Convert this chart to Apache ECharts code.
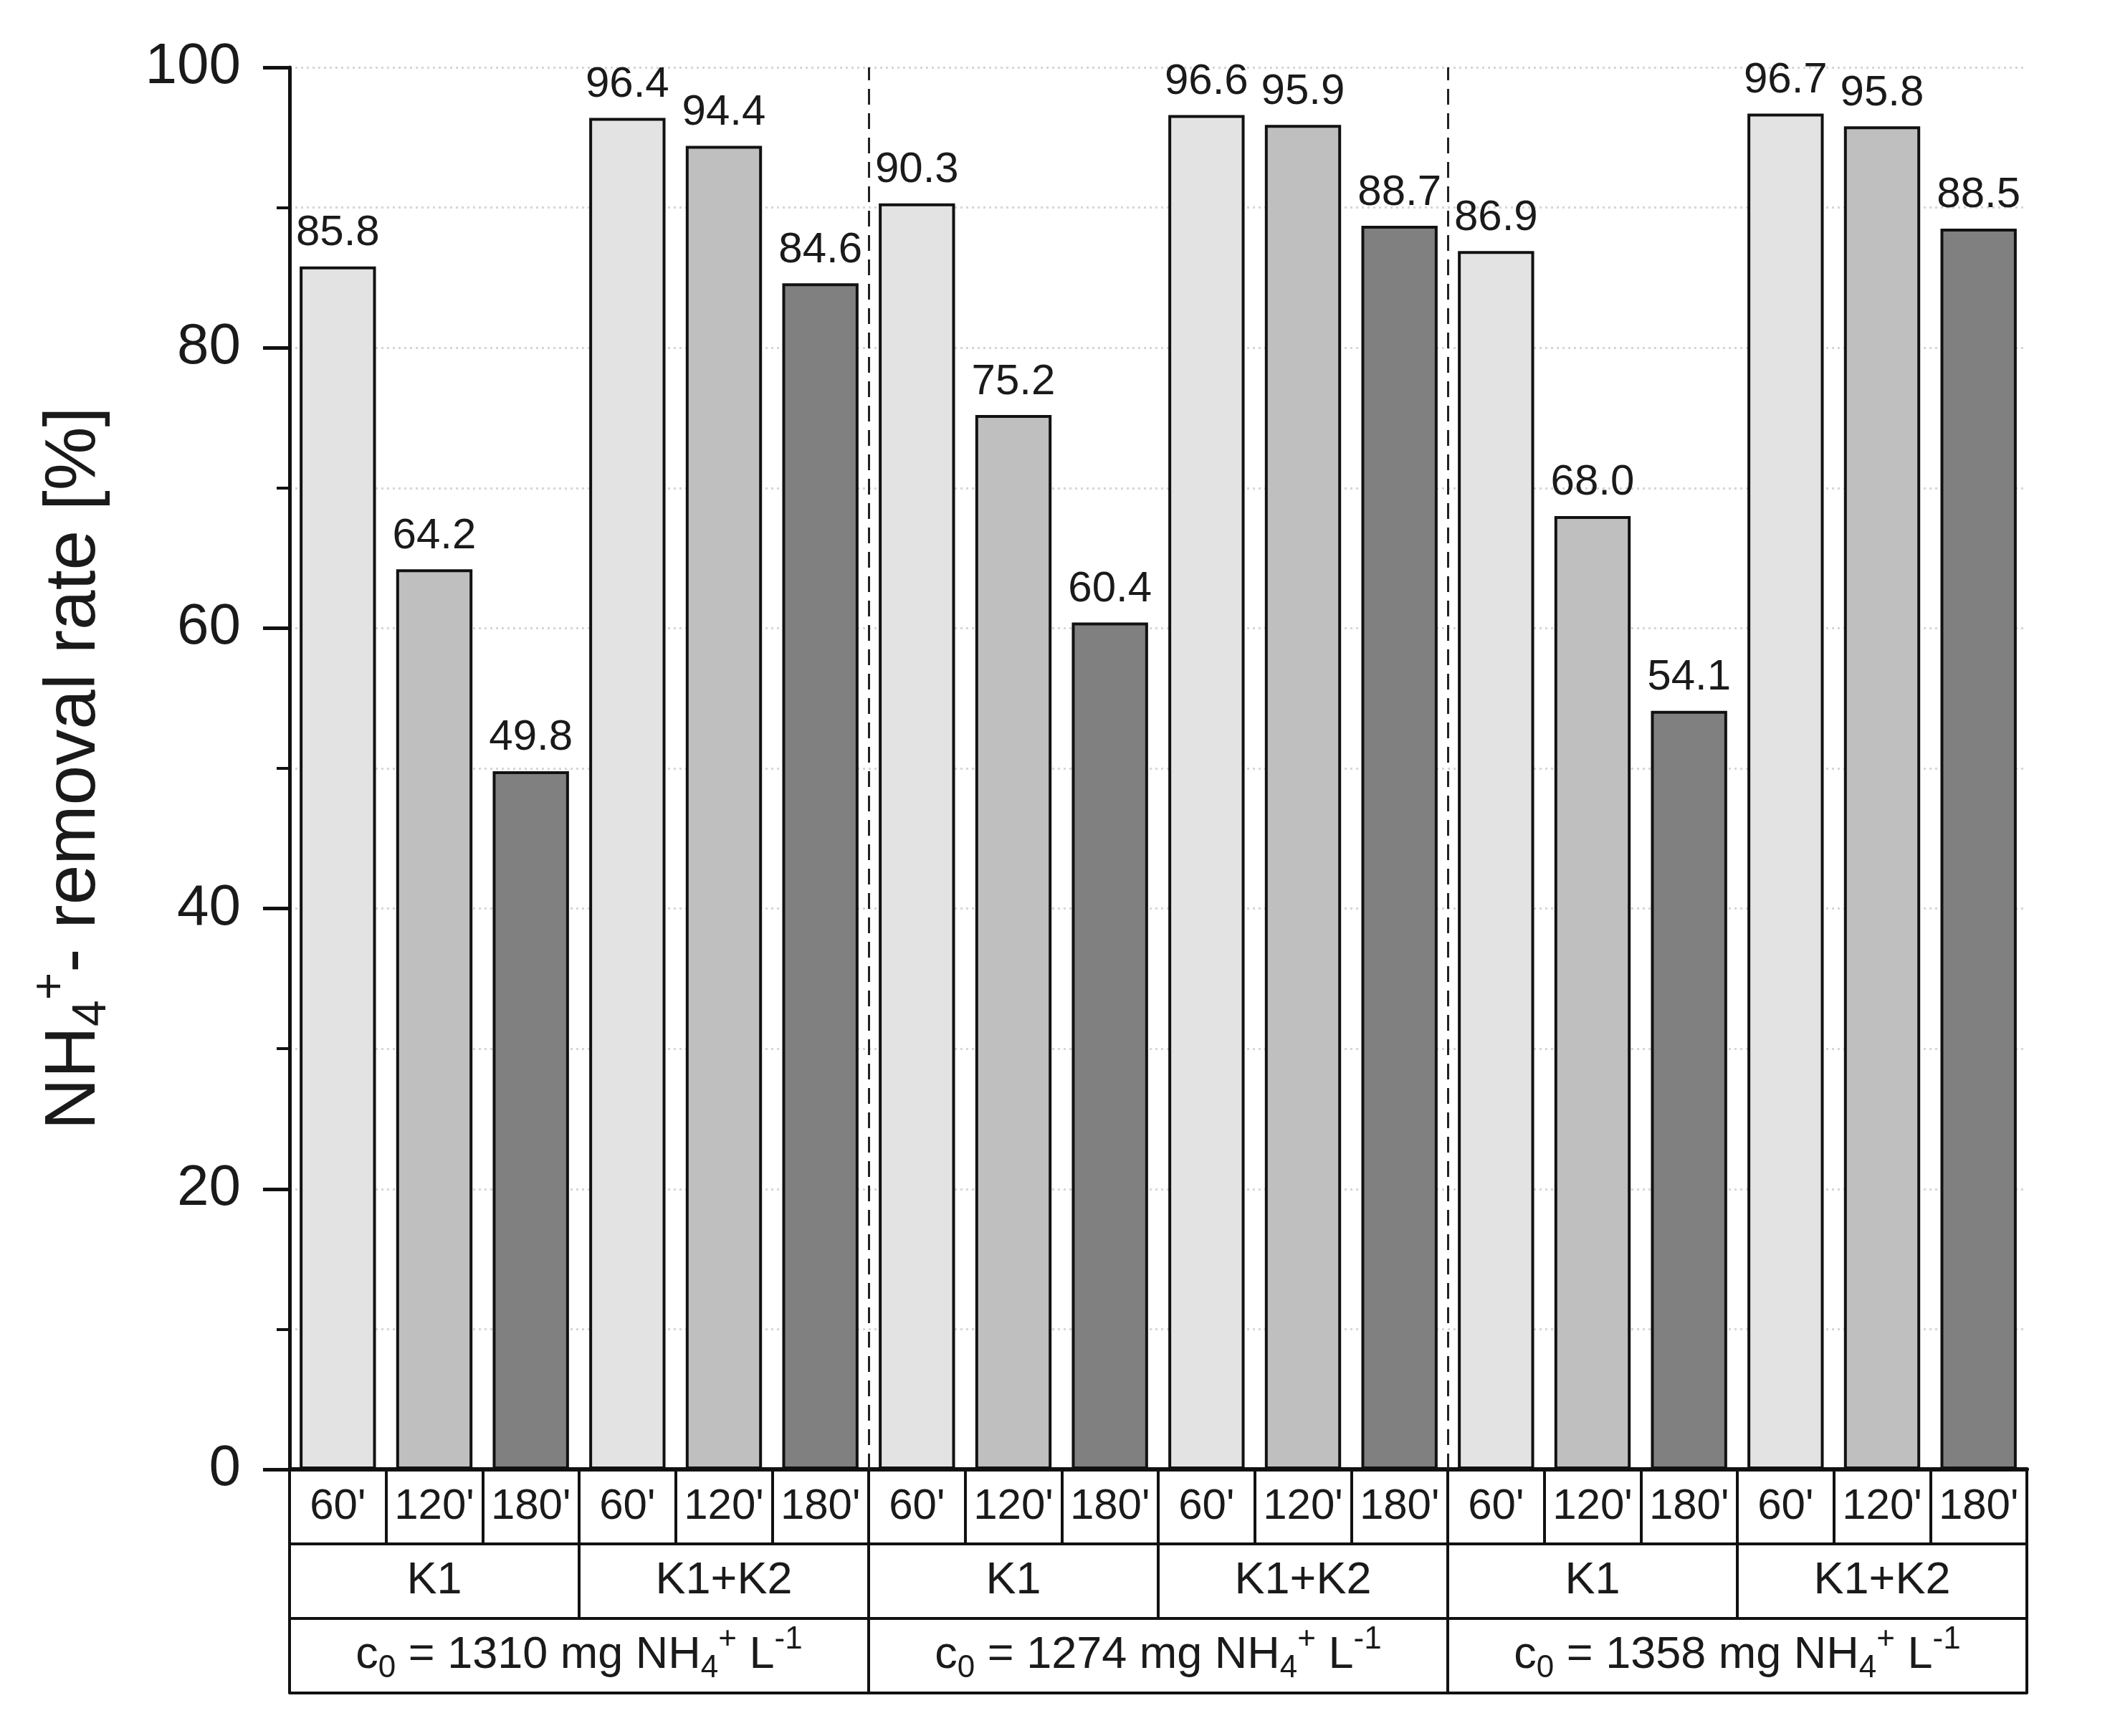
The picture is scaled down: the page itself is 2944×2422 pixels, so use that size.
<!DOCTYPE html>
<html>
<head>
<meta charset="utf-8">
<script src="https://cdn.jsdelivr.net/npm/echarts@6/dist/echarts.min.js"></script>
<style>
html,body{margin:0;padding:0;background:#fff;}
#chart{width:2944px;height:2422px;}
</style>
</head>
<body>
<div id="chart"></div>
<script>
// ---- data ----
const timeLabels = ["60'", "120'", "180'"];
const catalystLabels = ["K1", "K1+K2"];
const concLabels = ["1310", "1274", "1358"];
const removalRate = [85.8, 64.2, 49.8, 96.4, 94.4, 84.6,
                     90.3, 75.2, 60.4, 96.6, 95.9, 88.7,
                     86.9, 68.0, 54.1, 96.7, 95.8, 88.5];
const yMin = 0, yMax = 100, yStep = 20;

// ---- derived categories ----
const row1 = [], row2 = [], row3 = [];
concLabels.forEach(c => {
  row3.push(c);
  catalystLabels.forEach(k => {
    row2.push(k);
    timeLabels.forEach(t => row1.push(t));
  });
});
const groupSize = catalystLabels.length * timeLabels.length;
const separators = [];
for (let i = 1; i < concLabels.length; i++) separators.push({ xAxis: i * groupSize });

const FONT = "'Liberation Sans', Arial, sans-serif";
const TXT = '#1a1a1a';
const barColors = ['#e3e3e3', '#bfbfbf', '#808080'];
const ROW = 104;

function tableAxis(data, offset, extra) {
  return Object.assign({
    type: 'category',
    data: data,
    position: 'bottom',
    offset: offset,
    gridIndex: 0,
    boundaryGap: true,
    axisLine: { show: true, lineStyle: { color: '#111', width: 4 } },
    axisTick: { show: true, length: ROW, inside: false, interval: 0, alignWithLabel: false,
                lineStyle: { color: '#111', width: 4 } },
    axisLabel: { show: true, interval: 0, margin: ROW / 2, verticalAlign: 'middle',
                 fontSize: 60, fontFamily: FONT, color: TXT },
    splitLine: { show: false }
  }, extra || {});
}

const chart = echarts.init(document.getElementById('chart'), null, { renderer: 'canvas' });
chart.setOption({
  backgroundColor: '#fff',
  animation: false,
  grid: { left: 404, right: 116, top: 94, bottom: 372, containLabel: false },
  xAxis: [
    tableAxis(row1, 0, { axisLine: { show: true, lineStyle: { color: '#111', width: 6 } } }),
    tableAxis(row2, ROW, {
      axisLabel: { show: true, interval: 0, margin: ROW / 2, verticalAlign: 'middle',
                   fontSize: 63, fontFamily: FONT, color: TXT }
    }),
    tableAxis(row3, ROW * 2, {
      axisLabel: {
        show: true, interval: 0, margin: ROW / 2, verticalAlign: 'middle',
        fontSize: 63, fontFamily: FONT, color: TXT,
        formatter: v => '{n|c}{sb|0}{n| = ' + v + ' mg NH}{sb|4}{sp|+}{n| L}{sp|-1}',
        rich: {
          n: { fontSize: 63, fontFamily: FONT, color: TXT },
          sb: { fontSize: 44, fontFamily: FONT, color: TXT, padding: [36, 0, 0, 0] },
          sp: { fontSize: 44, fontFamily: FONT, color: TXT, padding: [0, 0, 44, 0] }
        }
      }
    }),
    tableAxis(row3, ROW * 3, { axisTick: { show: false }, axisLabel: { show: false } }),
    { type: 'value', min: 0, max: row1.length, show: false, gridIndex: 0 }
  ],
  yAxis: {
    type: 'value',
    min: yMin, max: yMax, interval: yStep,
    name: '{n|NH}{sb|4}{sp|+}{n|- removal rate [%]}',
    nameLocation: 'middle',
    nameRotate: 90,
    nameGap: 235,
    nameTextStyle: {
      rich: {
        n: { fontSize: 100, fontFamily: FONT, color: TXT },
        sb: { fontSize: 66, fontFamily: FONT, color: TXT, padding: [50, 0, 0, 0] },
        sp: { fontSize: 66, fontFamily: FONT, color: TXT, padding: [0, 0, 64, 0] }
      }
    },
    axisLine: { show: true, lineStyle: { color: '#111', width: 5 } },
    axisTick: { show: true, inside: false, length: 37, lineStyle: { color: '#111', width: 5 } },
    minorTick: { show: true, splitNumber: 2, length: 18, lineStyle: { color: '#111', width: 4 } },
    axisLabel: { fontSize: 80, fontFamily: FONT, color: TXT, margin: 68 },
    splitLine: { show: true, lineStyle: { color: '#d6d6d6', width: 3, type: [3, 5] } },
    minorSplitLine: { show: true, lineStyle: { color: '#d6d6d6', width: 3, type: [3, 5] } }
  },
  series: [
    {
      type: 'bar',
      xAxisIndex: 0,
      yAxisIndex: 0,
      data: removalRate,
      barWidth: '79%',
      itemStyle: {
        color: p => barColors[p.dataIndex % timeLabels.length],
        borderColor: '#111',
        borderWidth: 4
      },
      label: {
        show: true,
        position: 'top',
        distance: 16,
        fontSize: 60,
        fontFamily: FONT,
        color: TXT,
        formatter: p => p.value.toFixed(1)
      },
      z: 3
    },
    {
      type: 'line',
      xAxisIndex: 4,
      yAxisIndex: 0,
      data: [],
      markLine: {
        silent: true,
        symbol: 'none',
        label: { show: false },
        lineStyle: { type: [22, 12], color: '#222', width: 3 },
        data: separators
      },
      z: 4
    }
  ]
});
</script>
</body>
</html>
